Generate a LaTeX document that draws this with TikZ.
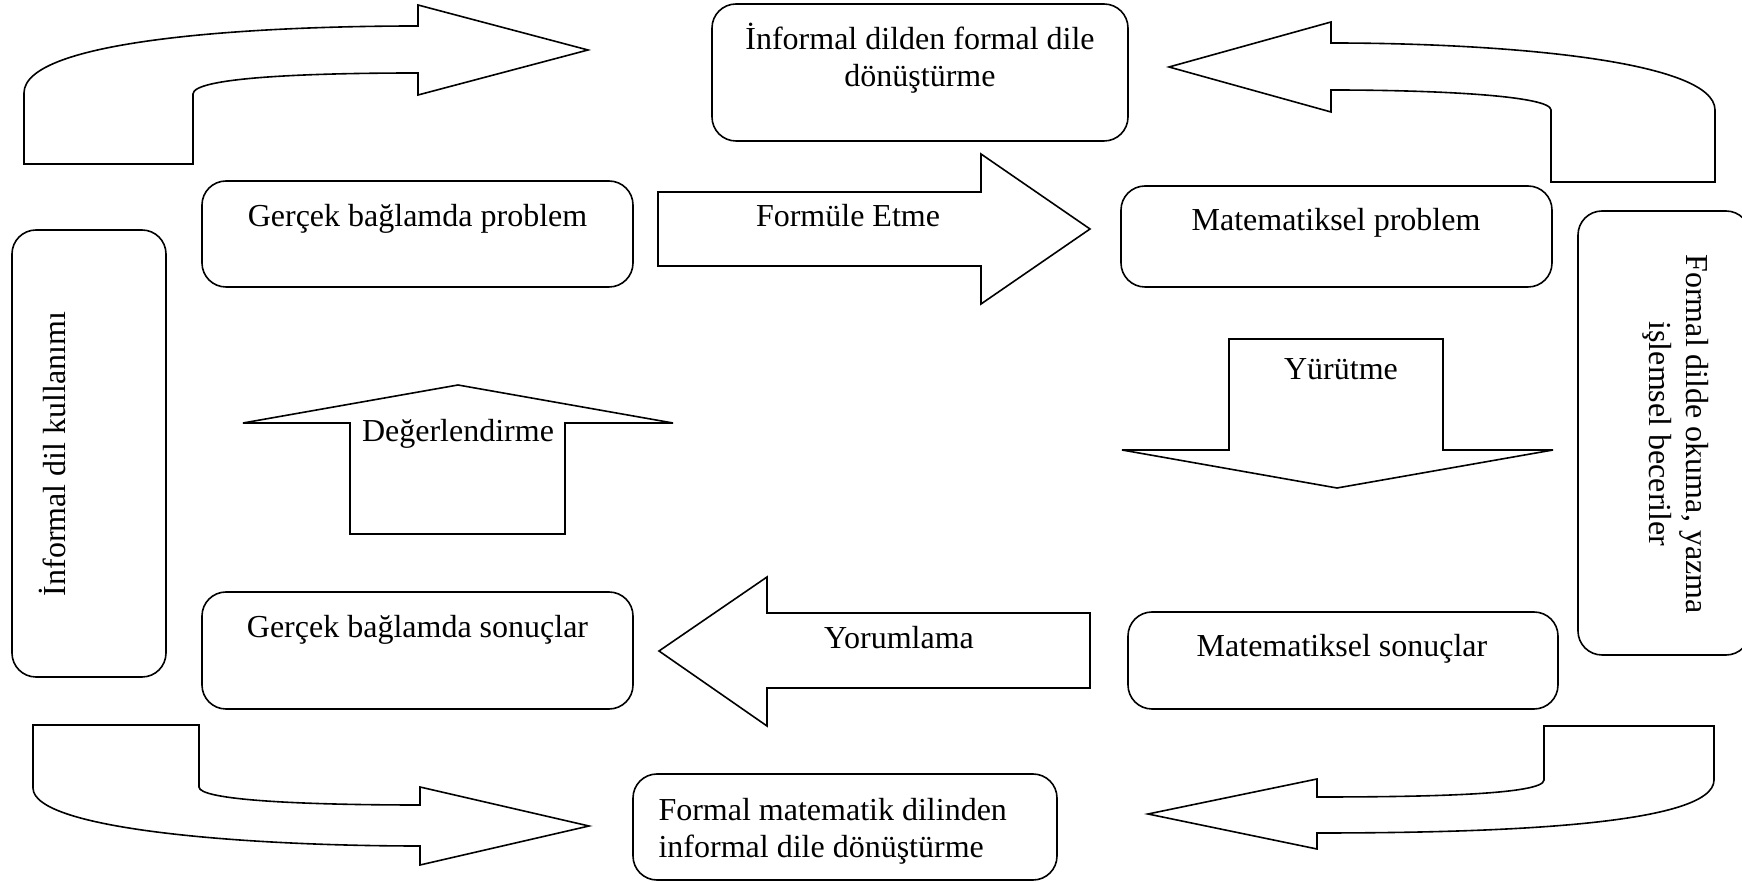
\documentclass[tikz,border=0pt]{standalone}
\usepackage{fontspec}
\setmainfont{Liberation Serif}
\newlength\px
\setlength\px{0.375pt}
\begin{document}
\begin{tikzpicture}[x=0.375pt, y=-0.375pt,
  blockarrow/.style={draw=black, line width=0.6pt, fill=white, line join=miter},
  box/.style={draw=black, line width=0.6pt, fill=white, rounded corners=9pt, inner sep=0pt},
  lbl/.style={inner sep=0pt, font=\fontsize{12}{14}\selectfont},
]
\useasboundingbox (0,0) rectangle (1742,882);
\clip (0,0) rectangle (1742,882);
\fill[white] (0,0) rectangle (1742,882);

% rounded boxes
\node[box, minimum width=416\px, minimum height=137\px] (topbox) at (920,72.5) {};
\node[box, minimum width=431\px, minimum height=106\px] (gp) at (417.5,234) {};
\node[box, minimum width=431\px, minimum height=101\px] (mp) at (1336.5,236.5) {};
\node[box, minimum width=431\px, minimum height=117\px] (gs) at (417.5,650.5) {};
\node[box, minimum width=430\px, minimum height=97\px] (ms) at (1343,660.5) {};
\node[box, minimum width=424\px, minimum height=106\px] (botbox) at (845,827) {};
\node[box, minimum width=154\px, minimum height=447\px] (leftbox) at (89,453.5) {};
\node[box, minimum width=172\px, minimum height=444\px] (rightbox) at (1664,433) {};

% box texts
\node[lbl, align=center] (t-top) at (920,58) {İnformal dilden formal dile\\dönüştürme};
\node[lbl, anchor=base] (t-gp) at (417.5,227) {Gerçek bağlamda problem};
\node[lbl, anchor=base] (t-mp) at (1336,231) {Matematiksel problem};
\node[lbl, anchor=base] (t-gs) at (417.5,638) {Gerçek bağlamda sonuçlar};
\node[lbl, anchor=base] (t-ms) at (1342,657) {Matematiksel sonuçlar};
\node[lbl, align=left, anchor=west] (t-bot) at (658,831.6) {Formal matematik dilinden\\informal dile dönüştürme};
\node[lbl, anchor=base, rotate=90] (t-left) at (65,454) {İnformal dil kullanımı};
\node[lbl, align=center, rotate=-90] (t-right) at (1676,434) {Formal dilde okuma, yazma\\işlemsel beceriler};

% curved block arrows in the corners
\draw[blockarrow] (24,164) -- (24,93) .. controls (24,40) and (250,26) .. (418,26)
  -- (418,5) -- (588,50) -- (418,95) -- (418,73)
  .. controls (300,73) and (193,78) .. (193,94) -- (193,164) -- cycle;
\draw[blockarrow] (1715,182) -- (1715,110) .. controls (1715,60) and (1500,43) .. (1331,43)
  -- (1331,22) -- (1169,67) -- (1331,112) -- (1331,90)
  .. controls (1440,90) and (1551,96) .. (1551,110) -- (1551,182) -- cycle;
\draw[blockarrow] (33,725) -- (33,788) .. controls (33,830) and (250,846) .. (420,846)
  -- (420,865) -- (589,826) -- (420,787) -- (420,805)
  .. controls (300,805) and (199,800) .. (199,787) -- (199,725) -- cycle;
\draw[blockarrow] (1714,726) -- (1714,780) .. controls (1714,825) and (1500,833) .. (1317,833)
  -- (1317,849) -- (1148,814) -- (1317,779) -- (1317,797)
  .. controls (1420,797) and (1544,795) .. (1544,780) -- (1544,726) -- cycle;

% straight block arrows of the cycle
\draw[blockarrow] (658,192) -- (981,192) -- (981,154) -- (1090,229) -- (981,304)
  -- (981,266) -- (658,266) -- cycle;
\draw[blockarrow] (1090,613) -- (767,613) -- (767,577) -- (659,651) -- (767,726)
  -- (767,688) -- (1090,688) -- cycle;
\draw[blockarrow] (350,534) -- (350,423) -- (243,423) -- (458,385) -- (673,423)
  -- (565,423) -- (565,534) -- cycle;
\draw[blockarrow] (1229,339) -- (1443,339) -- (1443,450) -- (1553,450) -- (1337,488)
  -- (1122,450) -- (1229,450) -- cycle;

% arrow labels
\node[lbl, anchor=base] (l-fe) at (848,227) {Formüle Etme};
\node[lbl, anchor=base] (l-yo) at (899,649) {Yorumlama};
\node[lbl, anchor=base] (l-de) at (458,442) {Değerlendirme};
\node[lbl, anchor=base] (l-yu) at (1341,380) {Yürütme};
\end{tikzpicture}
\end{document}
